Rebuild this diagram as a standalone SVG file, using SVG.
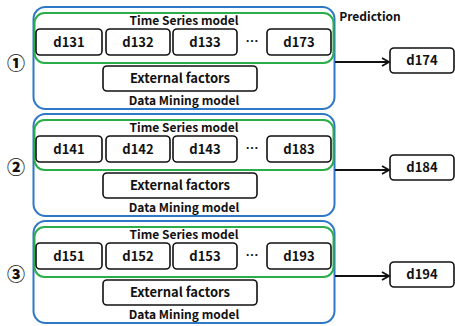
<svg xmlns="http://www.w3.org/2000/svg" width="455" height="326" viewBox="0 0 455 326">
<style>
.dm{fill:none;stroke:#2F78C8;stroke-width:2}
.ts{fill:none;stroke:#2BAE4A;stroke-width:2}
.bx{fill:#fff;stroke:#111;stroke-width:1.6}
.t{font-family:"Noto Sans CJK KR","Noto Sans",sans-serif;font-weight:700;font-size:12px;fill:#111;text-anchor:middle}
.d{font-family:"Noto Sans CJK KR","Noto Sans",sans-serif;font-weight:700;font-size:13px;fill:#111;text-anchor:middle}
.n{font-family:"Noto Sans CJK KR","DejaVu Sans",sans-serif;font-weight:900;font-size:18px;fill:#111;text-anchor:middle}
.ar{fill:none;stroke:#111;stroke-width:1.8}
</style>
<defs>
<marker id="ah" markerWidth="10" markerHeight="10" refX="8" refY="5" orient="auto" markerUnits="userSpaceOnUse">
<path d="M1,1 L8,5 L1,9" fill="none" stroke="#111" stroke-width="1.8"/>
</marker>
<g id="panelTpl">
<rect class="dm" x="33.5" y="0" width="301" height="102" rx="12"/>
<rect class="ts" x="34.5" y="6" width="299" height="50" rx="10"/>
<text class="t" x="184" y="17.5">Time Series model</text>
<rect class="bx" x="36" y="22" width="66" height="26" rx="4"/>
<rect class="bx" x="106" y="22" width="64" height="26" rx="4"/>
<rect class="bx" x="173" y="22" width="64" height="26" rx="4"/>
<rect class="bx" x="267" y="22" width="64" height="26" rx="4"/>
<text class="d" x="252" y="39">…</text>
<rect class="bx" x="103" y="59" width="154" height="25" rx="4"/>
<text class="d" x="180" y="76">External factors</text>
<text class="t" x="184" y="98">Data Mining model</text>
</g>
</defs>
<g id="prediction-label"><text class="t" x="370" y="21">Prediction</text></g>

<g id="panel1" transform="translate(0,7)">
<use href="#panelTpl"/>
<text class="d" x="69" y="39.5">d131</text>
<text class="d" x="138" y="39.5">d132</text>
<text class="d" x="205" y="39.5">d133</text>
<text class="d" x="299" y="39.5">d173</text>
</g>
<g id="panel2" transform="translate(0,114)">
<use href="#panelTpl"/>
<text class="d" x="69" y="39.5">d141</text>
<text class="d" x="138" y="39.5">d142</text>
<text class="d" x="205" y="39.5">d143</text>
<text class="d" x="299" y="39.5">d183</text>
</g>
<g id="panel3" transform="translate(0,221)">
<use href="#panelTpl"/>
<text class="d" x="69" y="39.5">d151</text>
<text class="d" x="138" y="39.5">d152</text>
<text class="d" x="205" y="39.5">d153</text>
<text class="d" x="299" y="39.5">d193</text>
</g>

<g id="num1"><text class="n" x="16" y="69.5">①</text></g>
<g id="num2"><text class="n" x="16" y="173.5">②</text></g>
<g id="num3"><text class="n" x="16" y="281">③</text></g>

<g id="out1"><rect class="bx" x="390" y="48" width="64" height="25" rx="4"/><text class="d" x="422" y="65">d174</text></g>
<g id="out2"><rect class="bx" x="390" y="155" width="64" height="25" rx="4"/><text class="d" x="422" y="172">d184</text></g>
<g id="out3"><rect class="bx" x="390" y="262" width="64" height="25" rx="4"/><text class="d" x="422" y="279">d194</text></g>

<g id="connectors">
<line class="ar" x1="335" y1="62" x2="389" y2="62" marker-end="url(#ah)"/>
<line class="ar" x1="335" y1="170" x2="389" y2="170" marker-end="url(#ah)"/>
<line class="ar" x1="335" y1="276" x2="389" y2="276" marker-end="url(#ah)"/>
</g>
</svg>
